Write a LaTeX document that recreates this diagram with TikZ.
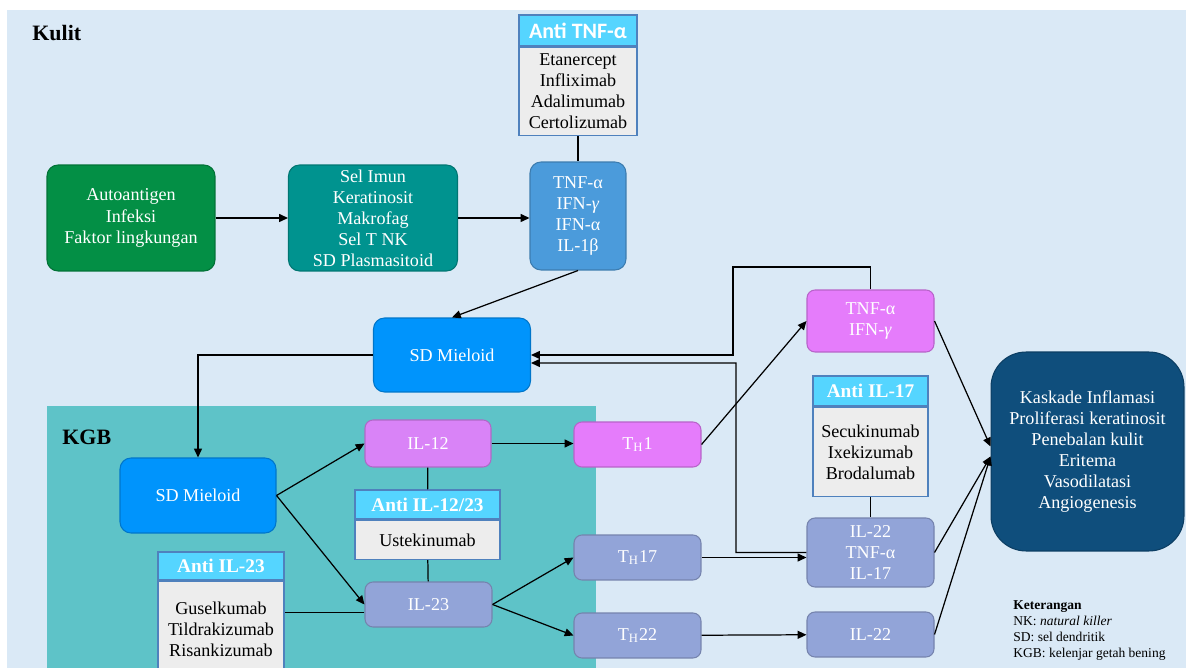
\documentclass[tikz,border=0pt]{standalone}
\usepackage{fontspec}
\setmainfont{Liberation Serif}
\newfontfamily\calibri{Carlito}
\usepackage{tikz}
\usetikzlibrary{arrows.meta,positioning}
\definecolor{skybg}{HTML}{DAE9F6}
\definecolor{kgbteal}{HTML}{5EC3C8}
\definecolor{autogreen}{HTML}{038F45}
\definecolor{imunteal}{HTML}{00938F}
\definecolor{tnfblue}{HTML}{4B9BDB}
\definecolor{sdblue}{HTML}{0094FC}
\definecolor{ilviolet}{HTML}{D983F7}
\definecolor{thpink}{HTML}{E57CFB}
\definecolor{peri}{HTML}{92A4D8}
\definecolor{outnavy}{HTML}{0F4E7C}
\definecolor{antihead}{HTML}{55D5FF}
\definecolor{antibody}{HTML}{EDEDED}
\definecolor{antiline}{HTML}{4F81BD}

\begin{document}
\begin{tikzpicture}[
  x=0.02cm,y=-0.02cm,
  font=\fontsize{10.3}{12}\selectfont,
  box/.style={rounded corners=0.22cm,draw=#1!80!black,fill=#1,text=white,align=center,inner sep=0pt,line width=0.6pt},
  small/.style={minimum width=2.54cm,minimum height=0.9cm,rounded corners=0.16cm},
  hdr/.style={draw=antiline,fill=antihead,text=white,inner sep=0pt,line width=0.8pt,font=\fontsize{11}{13}\selectfont\bfseries},
  drug/.style={draw=antiline,fill=antibody,text=black,align=center,inner sep=0pt,line width=0.8pt},
  arr/.style={-{Triangle[length=5pt,width=4.5pt]},line width=0.7pt},
  link/.style={line width=0.7pt}
]
\useasboundingbox (0,0) rectangle (1186,668);
\fill[white] (0,0) rectangle (1186,668);
\fill[skybg] (7,10) rectangle (1186,668);
\fill[kgbteal] (47,406) rectangle (596,668);

\node[anchor=west,inner sep=0pt,font=\fontsize{12.5}{15}\selectfont\bfseries] (kulit) at (32,33) {Kulit};
\node[anchor=west,inner sep=0pt,font=\fontsize{12.5}{15}\selectfont\bfseries] (kgb) at (62,437) {KGB};

% kulit
\node[box=autogreen,minimum width=3.36cm,minimum height=2.12cm] (auto) at (131,218) {Autoantigen\\Infeksi\\Faktor lingkungan};
\node[box=imunteal,minimum width=3.38cm,minimum height=2.12cm] (imun) at (373,218) {Sel Imun\\Keratinosit\\Makrofag\\Sel T NK\\SD Plasmasitoid};
\node[box=tnfblue,minimum width=1.92cm,minimum height=2.16cm] (tnf) at (578,216) {TNF-α\\IFN-\textit{γ}\\IFN-α\\IL-1β};
\node[hdr,minimum width=2.36cm,minimum height=0.62cm,font=\calibri\bfseries\fontsize{12.5}{15}\selectfont] (hTNF) at (578,30.5) {Anti TNF-α};
\node[drug,minimum width=2.36cm,minimum height=1.76cm,below=0pt of hTNF] (dTNF) {Etanercept\\Infliximab\\Adalimumab\\Certolizumab};
\node[box=sdblue,minimum width=3.14cm,minimum height=1.48cm] (sd1) at (452,355) {SD Mieloid};

% kgb
\node[box=sdblue,minimum width=3.12cm,minimum height=1.5cm] (sd2) at (198,495.5) {SD Mieloid};
\node[box=ilviolet,small,minimum width=2.52cm,minimum height=0.94cm] (il12) at (428,443.5) {IL-12};
\node[box=peri,small] (il23) at (428.5,604.5) {IL-23};
\node[hdr,minimum width=2.9cm,minimum height=0.58cm] (h1223) at (427.5,504.5) {Anti IL-12/23};
\node[drug,minimum width=2.9cm,minimum height=0.78cm,below=0pt of h1223] (d1223) {Ustekinumab};
\node[hdr,minimum width=2.52cm,minimum height=0.56cm] (h23) at (221,566) {Anti IL-23};
\node[drug,minimum width=2.52cm,minimum height=1.9cm,below=0pt of h23] (d23) {Guselkumab\\Tildrakizumab\\Risankizumab};
\node[box=thpink,small] (th1) at (637.5,444.5) {T\textsubscript{H}1};
\node[box=peri,small] (th17) at (637.5,557.5) {T\textsubscript{H}17};
\node[box=peri,small] (th22) at (637.5,635.5) {T\textsubscript{H}22};

% kanan
\node[box=thpink,small,minimum height=1.24cm] (tnfg) at (870.5,321) {TNF-α\\IFN-\textit{γ}};
\node[hdr,minimum width=2.3cm,minimum height=0.6cm] (h17) at (870.5,391) {Anti IL-17};
\node[drug,minimum width=2.3cm,minimum height=1.78cm,below=0pt of h17] (d17) {Secukinumab\\Ixekizumab\\Brodalumab};
\node[box=peri,small,minimum height=1.38cm] (mix) at (870.5,552.5) {IL-22\\TNF-α\\IL-17};
\node[box=peri,small] (il22) at (870.5,634.5) {IL-22};
\node[box=outnavy,rounded corners=0.7cm,minimum width=3.86cm,minimum height=3.98cm] (out) at (1087.5,451.5) {Kaskade Inflamasi\\Proliferasi keratinosit\\Penebalan kulit\\Eritema\\Vasodilatasi\\Angiogenesis};
\node[anchor=north west,align=left,inner sep=0pt,font=\fontsize{7.7}{9.2}\selectfont] (key) at (1013,600) {\textbf{Keterangan}\\NK: \textit{natural killer}\\SD: sel dendritik\\KGB: kelenjar getah bening};

\draw[arr] (auto) -- (imun);
\draw[arr] (imun.east) -- (imun.east -| tnf.west);
\draw[link] (dTNF) -- (tnf);
\draw[arr] (tnf.south) -- (sd1.north);
\draw[arr] (sd1.west) -| (sd2.north);
\draw[arr] (sd2.east) -- (il12.west);
\draw[arr] (sd2.east) -- (il23.west);
\draw[link] (il12) -- (h1223);
\draw[link] (d1223) -- (il23);
\draw[link] ([yshift=-0.16cm]il23.west) -- ([yshift=-0.16cm]il23.west -| d23.east);
\draw[arr] (il12.east) -- (il12.east -| th1.west);
\draw[arr] (il23.east) -- (th17.west);
\draw[arr] (il23.east) -- (th22.west);
\draw[arr] (th1.east) -- (tnfg.west);
\draw[arr] (th17.east) -- (th17.east -| mix.west);
\draw[arr] (th22) -- (il22);
\draw[link] (d17) -- (mix);
\draw[arr] (tnfg.north) |- (733,267) |- (sd1.east);
\draw[arr] (mix.west) -| (736,363) -- ([yshift=-0.16cm]sd1.east);
\draw[arr] (tnfg.east) -- ([yshift=0.1cm]out.west);
\draw[arr] (mix.east) -- ([yshift=-0.1cm]out.west);
\draw[arr] (il22.east) -- ([yshift=-0.1cm]out.west);
\end{tikzpicture}
\end{document}
